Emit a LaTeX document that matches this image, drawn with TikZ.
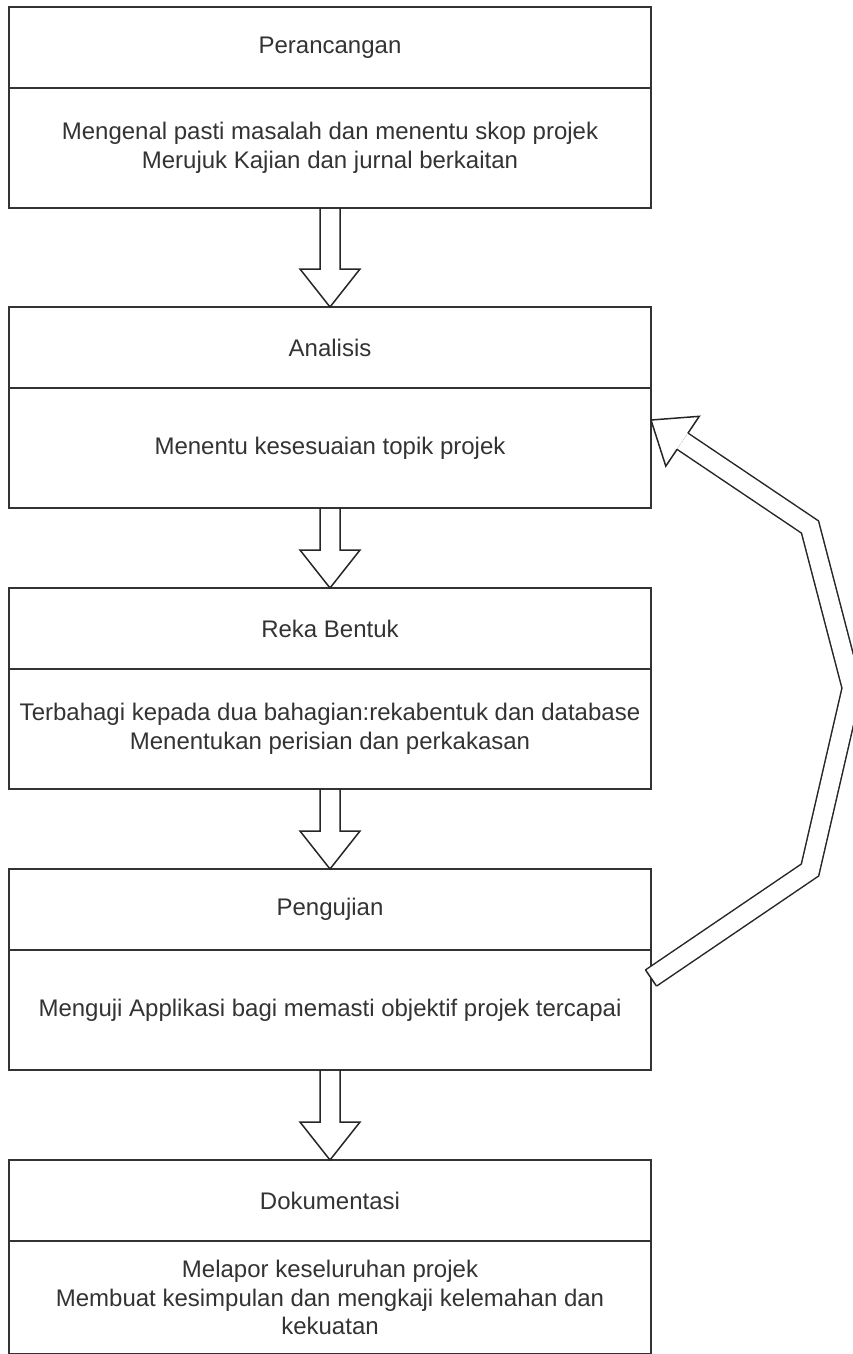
\documentclass[tikz,border=0pt]{standalone}
\usepackage{fontspec}
\setmainfont{Liberation Sans}
\usepackage{tikz}
\usetikzlibrary{positioning}
\usetikzlibrary{calc}

\begin{document}
\begin{tikzpicture}[x=1pt, y=1pt,
        head/.style={draw=black!80, line width=1.8pt, minimum width=642pt, minimum height=81pt, outer sep=0pt, text=black!80, font=\fontsize{24pt}{28.5pt}\selectfont},
        body/.style={head, minimum height=120pt, align=center},
        bigarrow/.style={draw=black!85, line width=1.5pt, line join=miter},
        fatline/.style={bigarrow, double=white, double distance=18pt}]
        \useasboundingbox (0,0) rectangle (852,-1354);

        \node[head] (perancangan) at (330,-47.5) {Perancangan};
        \node[body] (perancangan_task) [below=0pt of perancangan] {Mengenal pasti masalah dan menentu skop projek \\ Merujuk Kajian dan jurnal berkaitan};
        \node[head] (analisis) [below=99pt of perancangan_task] {Analisis};
        \node[body] (analisis_task) [below=0pt of analisis] {Menentu kesesuaian topik projek};
        \node[head] (reka_bentuk) [below=80pt of analisis_task] {Reka Bentuk};
        \node[body] (reka_bentuk_task) [below=0pt of reka_bentuk] {Terbahagi kepada dua bahagian:rekabentuk dan database \\ Menentukan perisian dan perkakasan};
        \node[head] (pengujian) [below=80pt of reka_bentuk_task] {Pengujian};
        \node[body] (pengujian_task) [below=0pt of pengujian] {Menguji Applikasi bagi memasti objektif projek tercapai};
        \node[head] (dokumentasi) [below=90pt of pengujian_task] {Dokumentasi};
        \node[body, minimum height=113pt] (dokumentasi_task) [below=0pt of dokumentasi] {Melapor keseluruhan projek \\ Membuat kesimpulan dan mengkaji kelemahan dan \\ kekuatan};

        \foreach \from/\to in {perancangan_task/analisis, analisis_task/reka_bentuk, reka_bentuk_task/pengujian, pengujian_task/dokumentasi}
            \draw[bigarrow] ([xshift=-10pt]\from.south) -- ([shift={(-10pt,38pt)}]\to.north) -- ([shift={(-30pt,38pt)}]\to.north) -- (\to.north) -- ([shift={(30pt,38pt)}]\to.north) -- ([shift={(10pt,38pt)}]\to.north) -- ([xshift=10pt]\from.south);

        % feedback from Pengujian back to Analisis
        \coordinate (back_tail) at ([yshift=32pt]pengujian_task.east);
        \coordinate (back_tip) at ([yshift=28pt]analisis_task.east);
        \coordinate (back_low) at (810,-870);
        \coordinate (back_mid) at (852,-688);
        \coordinate (back_high) at (810,-527);
        \coordinate (back_base) at ($(back_tip)!38pt!(back_high)$);
        \draw[fatline] (back_tail) -- (back_low) -- (back_mid) -- (back_high) -- (back_base);
        \draw[bigarrow] ($(back_tail)!9.75pt!90:(back_low)$) -- ($(back_tail)!9.75pt!-90:(back_low)$);
        \draw[bigarrow] ($(back_base)!9.75pt!90:(back_tip)$) -- ($(back_base)!30pt!90:(back_tip)$) -- (back_tip) -- ($(back_base)!30pt!-90:(back_tip)$) -- ($(back_base)!9.75pt!-90:(back_tip)$);
\end{tikzpicture}
\end{document}
